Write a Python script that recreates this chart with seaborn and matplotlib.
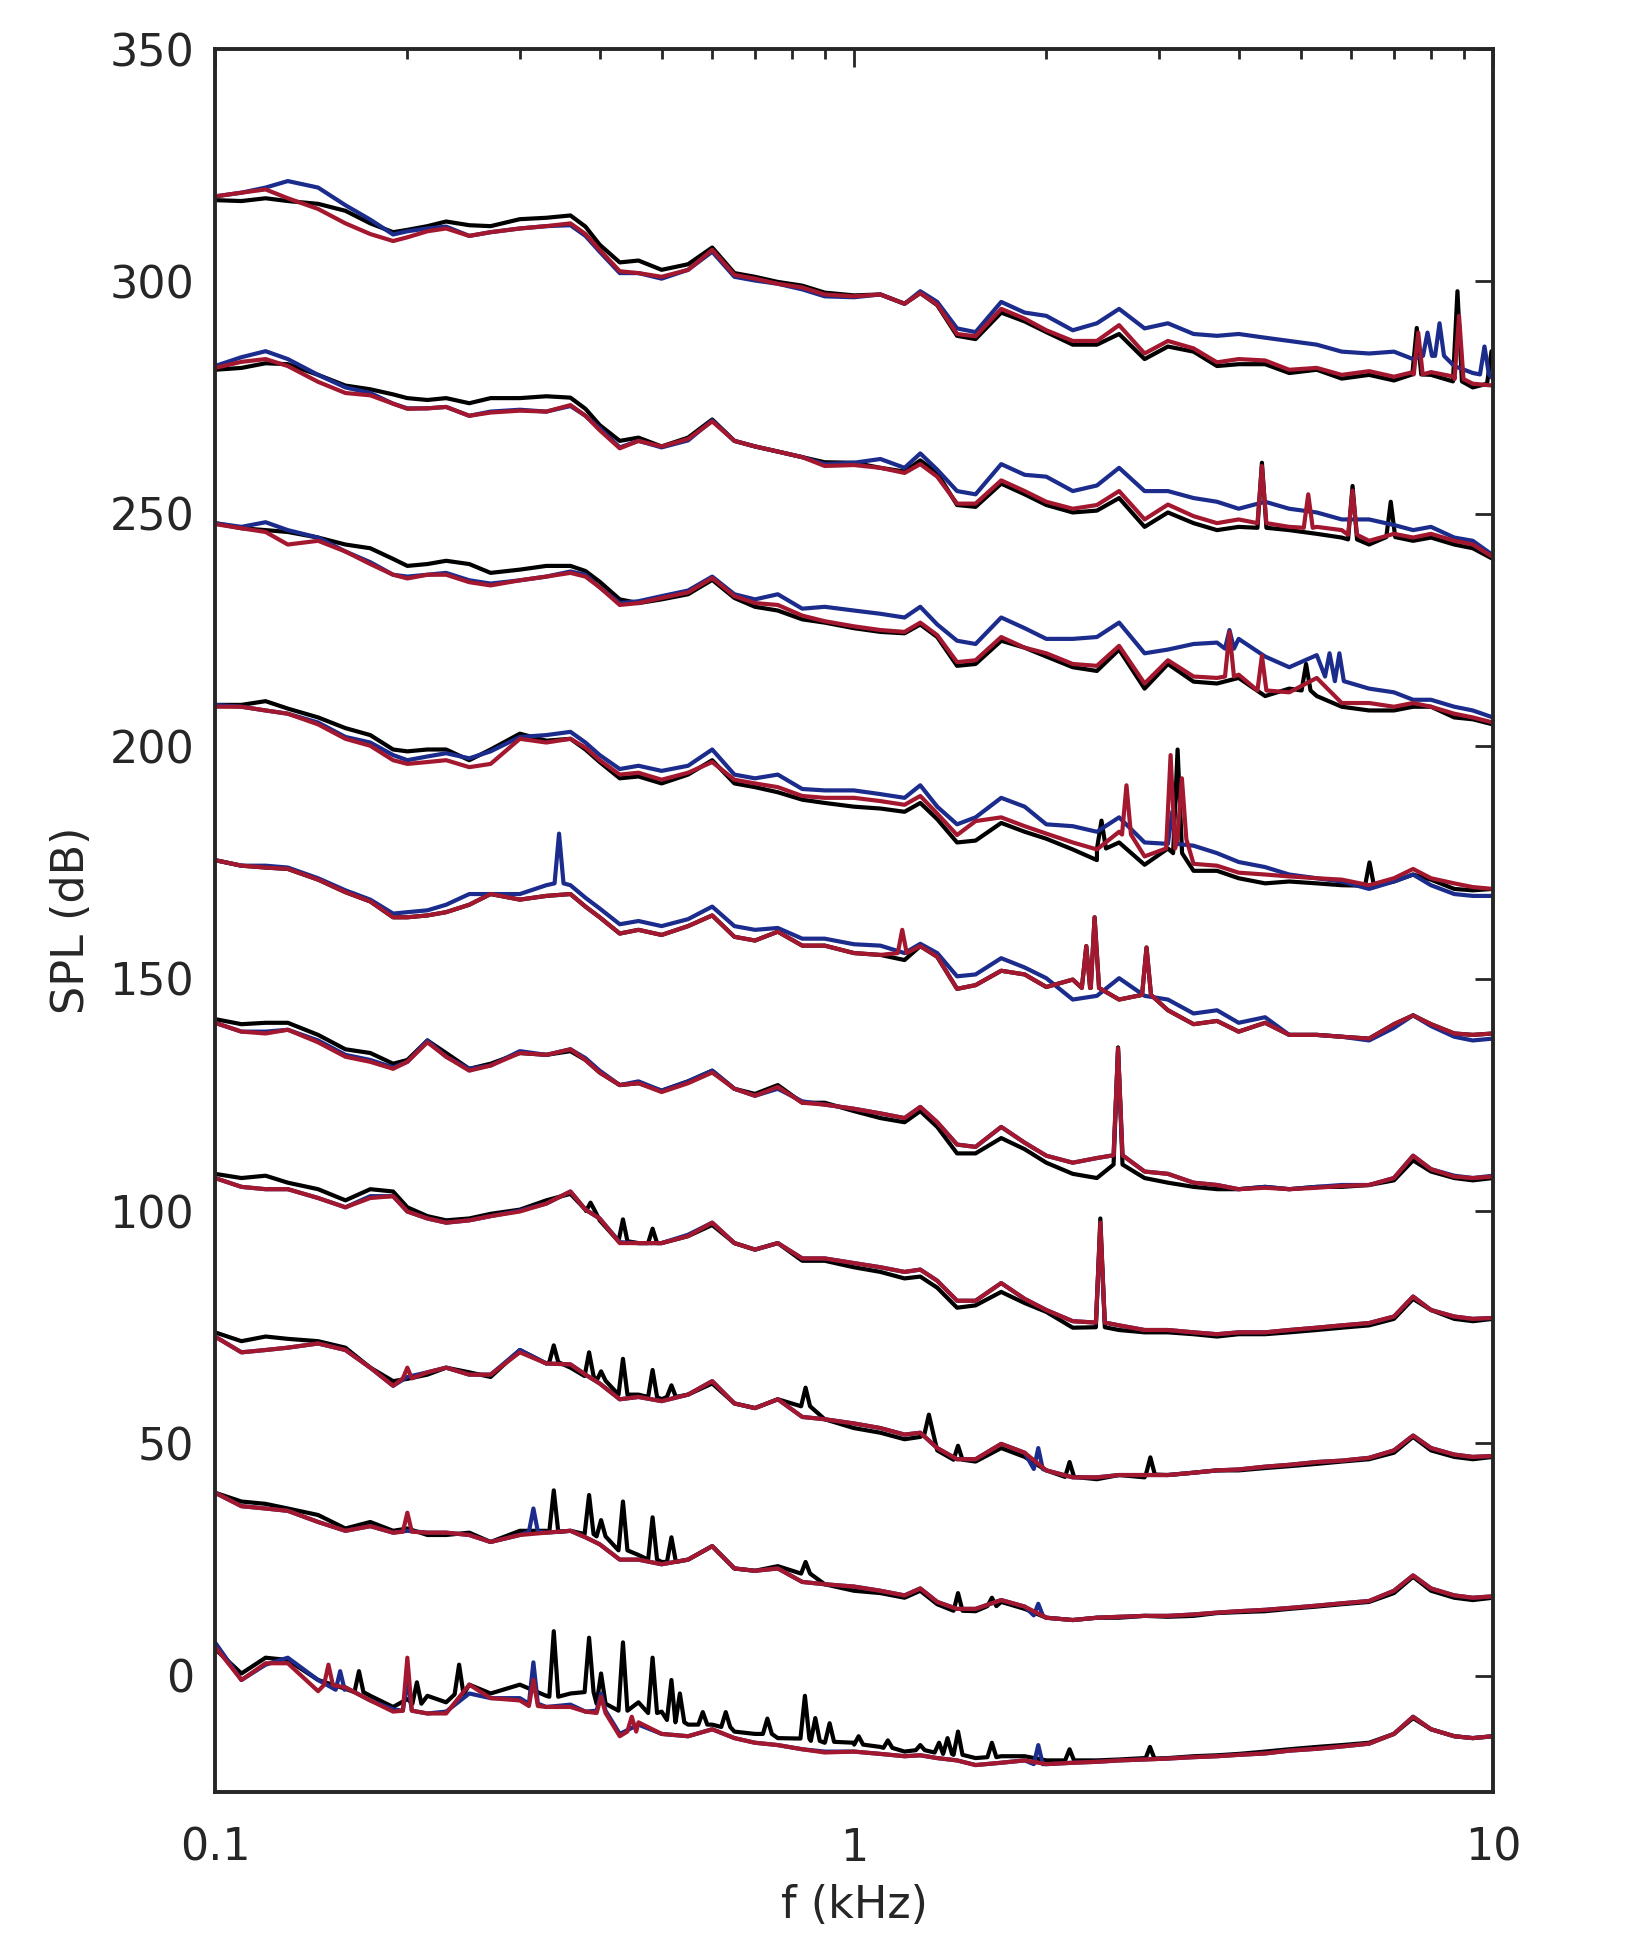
import numpy as np
import pandas as pd
import seaborn as sns
import matplotlib.pyplot as plt
from matplotlib.ticker import FixedLocator, NullFormatter

sns.set_theme(style="white")
plt.rcParams['font.family'] = ['DejaVu Sans']

# frekans ızgarası (kHz), tüm eğriler için ortak
freq_khz = [0.1, 0.11, 0.12, 0.13, 0.145, 0.16, 0.175, 0.19, 0.2, 0.215, 0.23, 0.25, 0.27, 0.3,
            0.33, 0.36, 0.38, 0.4, 0.43, 0.46, 0.5, 0.55, 0.6, 0.65, 0.7, 0.76, 0.83, 0.9,
            1.0, 1.1, 1.2, 1.27, 1.35, 1.45, 1.55, 1.7, 1.85, 2.0, 2.2, 2.4, 2.6, 2.85, 3.1,
            3.4, 3.7, 4.0, 4.4, 4.8, 5.3, 5.8, 6.4, 7.0, 7.5, 8.0, 8.7, 9.3, 10.0]

# grup 1 (en üst)
k1 = [317.5, 317.3, 317.9, 317.3, 316.7, 315.2, 312.5, 310.6, 311.1, 311.9, 312.9, 312.1, 311.9, 313.4,
      313.7, 314.2, 311.8, 307.9, 304.1, 304.5, 302.5, 303.7, 307.3, 301.8, 301.0, 299.9, 299.1, 297.6,
      297.0, 297.2, 295.2, 297.5, 294.9, 288.3, 287.6, 293.3, 291.4, 289.1, 286.4, 286.4, 288.7, 283.3, 286.0,
      284.9, 281.8, 282.2, 282.2, 280.3, 281.0, 279.1, 279.9, 278.7, 280.0, 279.9, 278.5, 277.2, 278.0]
b1 = [318.3, 319.1, 320.2, 321.6, 320.2, 316.4, 313.3, 310.1, 310.8, 311.4, 311.8, 309.8, 310.6, 311.4,
      311.9, 312.1, 309.8, 306.4, 301.8, 301.8, 300.6, 302.5, 306.4, 301.0, 300.2, 299.5, 298.3, 296.8,
      296.6, 297.2, 295.2, 297.9, 295.6, 289.9, 289.1, 295.6, 293.3, 292.6, 289.5, 291.0, 294.1, 289.9, 291.0,
      288.7, 288.3, 288.7, 287.9, 287.2, 286.4, 284.9, 284.5, 284.9, 283.3, 286.4, 281.8, 280.3, 279.1]
r1 = [318.3, 319.1, 319.8, 317.9, 315.6, 312.5, 310.2, 308.7, 309.5, 310.8, 311.4, 309.8, 310.6, 311.4,
      311.9, 312.5, 310.2, 306.8, 302.2, 301.8, 301.0, 302.5, 306.8, 301.4, 300.6, 299.5, 298.7, 297.2,
      296.8, 297.2, 295.2, 297.5, 295.0, 288.7, 288.2, 294.1, 292.0, 289.5, 287.2, 287.2, 290.6, 284.5, 287.2,
      285.6, 282.6, 283.3, 283.0, 281.0, 281.4, 279.9, 280.7, 279.5, 280.5, 280.5, 279.5, 278.0, 277.6]
s1 = [("k", 7.6, 280.0, 290.0), ("k", 8.8, 278.5, 297.9), ("k", 9.95, 278.0, 285.0),
      ("b", 7.9, 284.0, 289.0), ("b", 8.25, 284.0, 291.0), ("b", 9.7, 280.0, 286.0),
      ("r", 7.64, 280.0, 289.0), ("r", 8.85, 279.0, 292.6)]

# grup 2
k2 = [281.0, 281.4, 282.4, 282.2, 279.9, 277.6, 276.8, 275.7, 274.9, 274.5, 274.9, 273.8, 274.9, 274.9,
      275.3, 275.0, 272.6, 269.1, 265.7, 266.4, 264.5, 266.4, 270.3, 265.7, 264.5, 263.4, 262.2, 261.1,
      261.0, 259.9, 259.1, 261.5, 258.8, 251.9, 251.5, 256.5, 254.2, 251.9, 250.3, 250.7, 253.4, 247.2, 250.3,
      248.0, 246.5, 247.2, 246.9, 246.5, 245.7, 244.9, 243.4, 244.9, 244.2, 244.9, 243.4, 242.6, 240.3]
b2 = [281.8, 283.7, 285.0, 283.3, 279.9, 277.2, 276.0, 273.7, 272.7, 272.7, 273.0, 271.1, 272.0, 272.4,
      272.0, 273.2, 271.1, 268.4, 264.3, 265.7, 264.3, 265.8, 270.1, 265.7, 264.5, 263.4, 262.2, 260.7,
      261.0, 261.8, 259.9, 263.0, 259.5, 254.9, 254.2, 260.7, 258.4, 258.0, 254.9, 256.1, 259.9, 254.9, 254.9,
      253.4, 252.6, 251.1, 252.6, 251.1, 250.3, 248.8, 248.8, 247.6, 246.5, 247.2, 244.9, 244.2, 241.1]
r2 = [281.4, 282.7, 283.3, 281.8, 278.4, 276.0, 275.5, 273.7, 272.6, 272.7, 273.0, 271.1, 271.8, 272.2,
      272.0, 273.4, 271.1, 268.0, 264.1, 265.7, 264.5, 266.1, 269.9, 265.7, 264.5, 263.4, 262.2, 260.3,
      260.5, 259.9, 258.8, 260.7, 258.0, 252.2, 252.2, 257.2, 254.9, 252.6, 251.1, 251.9, 254.9, 248.8, 252.0,
      249.5, 248.0, 248.8, 248.8, 247.2, 247.2, 246.5, 244.2, 245.7, 244.9, 245.7, 244.2, 243.4, 240.7]
s2 = [("k", 4.35, 247.0, 261.0), ("k", 6.03, 244.5, 256.0), ("k", 6.92, 245.0, 252.6),
      ("r", 4.35, 248.0, 260.3), ("r", 5.14, 247.0, 254.2), ("r", 6.03, 245.5, 255.0)]

# grup 3
k3 = [248.0, 246.9, 246.5, 246.1, 244.9, 243.4, 242.6, 240.3, 238.8, 239.2, 239.9, 239.2, 237.3, 238.0,
      238.8, 238.8, 237.7, 235.4, 231.6, 230.8, 231.6, 232.7, 235.8, 231.9, 230.0, 229.2, 227.3, 226.6,
      225.4, 224.6, 224.3, 226.2, 223.5, 217.3, 217.7, 222.7, 221.2, 219.3, 217.0, 216.2, 220.8, 212.4, 217.7,
      213.9, 213.5, 214.7, 210.8, 212.4, 210.8, 208.5, 207.7, 207.7, 208.5, 208.5, 206.2, 205.8, 204.7]
b3 = [248.0, 247.2, 248.2, 246.5, 244.9, 241.9, 239.6, 236.9, 236.5, 236.9, 237.3, 235.7, 235.0, 235.7,
      236.5, 237.6, 236.9, 234.2, 230.8, 231.2, 232.3, 233.5, 236.5, 232.7, 231.6, 232.7, 229.6, 230.0,
      229.2, 228.5, 227.7, 230.0, 226.2, 222.7, 222.0, 227.7, 225.4, 223.1, 223.1, 223.5, 226.6, 220.0, 220.8,
      222.0, 222.3, 223.1, 219.3, 217.0, 219.6, 214.7, 212.4, 211.6, 210.0, 210.0, 208.5, 207.7, 206.2]
r3 = [247.8, 246.9, 246.1, 243.4, 244.2, 241.9, 239.2, 236.9, 236.1, 236.9, 236.9, 235.3, 234.6, 235.7,
      236.5, 237.3, 236.5, 234.2, 230.4, 230.8, 231.9, 233.1, 236.2, 232.3, 230.8, 230.4, 228.1, 226.9,
      225.8, 225.0, 224.6, 226.6, 223.9, 218.1, 218.5, 223.5, 221.2, 220.0, 217.7, 217.3, 221.6, 213.5, 218.5,
      215.0, 214.7, 215.4, 216.0, 211.6, 214.7, 209.3, 209.3, 208.5, 209.3, 208.5, 207.0, 206.2, 205.1]
s3 = [("k", 5.1, 212.0, 217.7), ("b", 3.87, 221.0, 225.0), ("b", 5.55, 215.0, 220.0),
      ("b", 5.75, 214.0, 220.0), ("r", 3.87, 215.0, 224.6), ("r", 4.35, 212.0, 219.5)]

# grup 4
k4 = [208.9, 208.9, 209.7, 208.1, 206.2, 203.9, 202.4, 199.3, 198.9, 199.3, 199.3, 197.0, 199.3, 202.7,
      201.2, 201.6, 199.3, 196.6, 193.1, 193.5, 192.0, 193.9, 197.0, 192.0, 191.2, 190.1, 188.5, 187.8,
      187.0, 186.6, 185.9, 187.8, 184.3, 179.3, 179.7, 183.5, 181.6, 180.1, 177.8, 175.5, 179.3, 174.5, 178.0,
      173.2, 173.2, 171.6, 170.5, 170.9, 170.5, 170.1, 170.1, 170.9, 172.4, 171.3, 169.3, 169.0, 169.3]
b4 = [208.9, 208.5, 207.7, 207.0, 205.1, 202.0, 200.8, 198.1, 197.0, 197.8, 198.5, 197.4, 198.9, 202.0,
      202.4, 203.1, 200.8, 198.1, 195.1, 195.8, 194.7, 195.8, 199.3, 193.9, 193.1, 193.9, 190.8, 190.5,
      190.5, 189.7, 188.9, 191.6, 187.0, 183.2, 184.7, 188.9, 187.0, 183.2, 182.8, 181.6, 184.7, 179.3, 180.5,
      178.6, 177.0, 175.1, 174.0, 172.4, 171.6, 170.9, 169.3, 170.9, 172.4, 170.1, 168.2, 167.8, 167.8]
r4 = [208.5, 208.5, 207.7, 207.0, 204.7, 201.6, 200.1, 197.0, 196.2, 196.6, 197.0, 195.5, 196.2, 201.6,
      200.8, 201.6, 199.7, 197.0, 193.9, 194.3, 192.8, 194.3, 196.6, 192.8, 192.0, 191.2, 189.3, 188.9,
      188.9, 188.2, 187.4, 189.3, 185.5, 180.9, 183.9, 184.7, 182.8, 181.2, 179.3, 177.8, 181.6, 176.3, 180.9,
      174.7, 174.3, 172.8, 172.4, 172.0, 171.6, 171.3, 170.1, 171.6, 173.6, 171.6, 170.5, 169.7, 169.3]
s4 = [("k", 2.44, 178.0, 184.0), ("k", 3.21, 177.0, 199.3), ("k", 6.41, 170.0, 175.0),
      ("b", 3.15, 179.0, 186.0), ("r", 2.67, 181.0, 191.6), ("r", 3.13, 178.0, 198.1),
      ("r", 3.26, 180.0, 193.1)]

# grup 5 (siyah eğri kırmızının altında kalıyor)
r5 = [175.5, 174.3, 173.9, 173.6, 171.3, 168.6, 166.6, 163.2, 163.2, 163.6, 164.3, 165.9, 168.2, 167.0,
      167.8, 168.2, 165.5, 163.2, 159.7, 160.5, 159.4, 161.3, 163.6, 159.0, 158.2, 160.1, 157.1, 157.1,
      155.5, 155.1, 154.0, 157.0, 154.7, 147.8, 148.6, 151.7, 150.9, 148.2, 149.8, 147.0, 145.5, 148.0, 143.2,
      140.2, 140.9, 138.6, 140.5, 137.9, 137.9, 137.5, 137.1, 140.2, 142.1, 140.2, 138.2, 137.9, 138.2]
k5 = r5
b5 = [175.5, 174.3, 174.3, 173.9, 171.6, 169.0, 167.0, 164.0, 164.3, 164.7, 165.9, 168.2, 168.2, 168.2,
      170.1, 170.1, 167.4, 165.1, 161.7, 162.4, 161.3, 162.8, 165.5, 161.3, 160.5, 160.9, 158.6, 158.6,
      157.4, 157.1, 155.5, 157.5, 155.5, 150.5, 150.9, 154.4, 152.4, 150.1, 145.5, 146.3, 150.1, 146.3, 145.5,
      142.5, 143.2, 140.5, 141.7, 137.9, 137.9, 137.5, 136.7, 139.4, 142.1, 139.8, 137.5, 136.7, 137.1]
s5 = [("b", 0.3455, 170.5, 181.2), ("r", 1.19, 155.5, 160.5), ("r", 2.31, 148.0, 157.0),
      ("r", 2.38, 148.0, 163.2), ("r", 2.87, 146.5, 156.7), ("k", 2.31, 148.0, 157.0),
      ("k", 2.38, 148.0, 163.2), ("k", 2.87, 146.5, 156.7)]

# grup 6
k6 = [141.3, 140.2, 140.5, 140.5, 137.9, 134.8, 134.0, 131.7, 132.5, 136.7, 134.0, 130.6, 131.7, 134.0,
      133.6, 134.4, 132.5, 129.8, 127.1, 127.5, 125.9, 127.9, 130.2, 126.3, 125.2, 127.1, 123.3, 123.3,
      121.5, 120.0, 119.1, 121.5, 118.1, 112.4, 112.4, 115.7, 113.3, 110.4, 108.0, 107.1, 109.0, 107.1, 106.1,
      105.2, 104.7, 104.7, 105.2, 104.7, 105.2, 105.2, 105.6, 106.6, 110.9, 108.5, 107.1, 106.6, 107.1]
b6 = [140.5, 138.6, 138.6, 139.0, 136.7, 133.6, 132.5, 130.9, 132.1, 136.7, 133.2, 130.6, 131.3, 134.4,
      133.6, 134.8, 132.9, 130.2, 127.1, 127.9, 125.9, 127.9, 130.2, 126.3, 124.8, 126.3, 123.6, 122.9,
      122.0, 121.0, 120.0, 122.4, 119.1, 114.3, 113.8, 118.1, 114.7, 111.9, 110.4, 111.4, 113.8, 108.5, 108.0,
      106.1, 105.6, 104.7, 105.2, 104.7, 105.2, 105.6, 105.6, 107.1, 111.9, 109.0, 107.6, 107.1, 107.6]
r6 = [140.5, 138.6, 138.2, 139.0, 136.3, 133.2, 132.1, 130.6, 132.1, 136.3, 133.2, 130.2, 131.3, 134.0,
      133.6, 134.8, 132.5, 129.8, 127.1, 127.5, 125.6, 127.5, 129.8, 126.3, 124.8, 126.7, 123.3, 122.9,
      122.0, 121.0, 120.0, 122.4, 119.1, 114.3, 113.8, 118.1, 114.7, 111.9, 110.4, 111.4, 113.8, 108.5, 108.0,
      106.1, 105.6, 104.7, 105.0, 104.7, 105.0, 105.4, 105.6, 107.1, 111.9, 109.0, 107.4, 107.1, 107.4]
s6 = [("k", 2.59, 110.0, 135.2), ("b", 2.59, 112.0, 134.5), ("r", 2.59, 112.0, 135.0)]

# grup 7
k7 = [108.0, 107.1, 107.6, 106.1, 104.7, 102.3, 104.7, 104.2, 100.8, 98.9, 98.0, 98.4, 99.4, 100.3,
      102.3, 103.7, 100.3, 98.0, 93.6, 93.1, 93.1, 94.6, 97.0, 93.1, 91.7, 93.1, 89.3, 89.3,
      87.9, 86.9, 85.5, 85.9, 83.5, 79.2, 79.7, 82.6, 80.2, 78.3, 74.9, 75.4, 74.4, 73.9, 73.9,
      73.5, 73.0, 73.5, 73.5, 73.9, 74.4, 74.9, 75.4, 76.8, 81.1, 78.7, 76.8, 76.3, 76.8]
b7 = [107.1, 105.2, 104.7, 104.7, 102.8, 100.8, 103.2, 103.2, 99.9, 98.4, 97.5, 98.0, 98.9, 100.1,
      101.6, 104.2, 100.3, 98.4, 93.3, 93.1, 93.1, 94.9, 97.5, 93.1, 91.7, 93.1, 89.8, 89.8,
      88.8, 87.9, 86.9, 87.4, 85.0, 80.7, 80.7, 84.5, 81.1, 78.7, 76.3, 76.8, 75.4, 74.4, 74.4,
      73.9, 73.5, 73.9, 73.9, 74.4, 74.9, 75.4, 75.9, 77.3, 81.6, 78.7, 77.3, 76.8, 77.0]
r7 = [107.1, 105.2, 104.7, 104.7, 102.8, 100.8, 102.8, 103.2, 99.9, 98.4, 97.5, 98.0, 98.9, 99.9,
      101.6, 104.2, 100.3, 98.4, 93.1, 93.1, 93.1, 94.6, 97.5, 93.1, 91.7, 93.1, 89.8, 89.8,
      88.8, 87.9, 86.9, 87.4, 85.0, 80.7, 80.7, 84.5, 81.1, 78.7, 76.3, 76.8, 75.4, 74.4, 74.4,
      73.9, 73.5, 73.9, 73.9, 74.4, 74.9, 75.4, 75.9, 77.3, 81.6, 78.7, 77.3, 76.8, 77.0]
s7 = [("k", 0.387, 100.0, 101.8), ("k", 0.435, 93.5, 98.2), ("k", 0.484, 93.1, 96.2),
      ("k", 2.43, 75.0, 98.4), ("b", 2.43, 76.0, 96.0), ("r", 2.43, 76.0, 97.5)]

# grup 8
k8 = [73.9, 72.0, 73.0, 72.5, 72.0, 70.6, 66.3, 63.4, 63.9, 64.8, 66.3, 65.3, 64.3, 70.1,
      67.2, 66.3, 64.3, 63.9, 60.0, 60.5, 59.5, 60.5, 62.9, 58.6, 57.6, 59.5, 55.2, 55.2,
      53.3, 52.3, 50.9, 51.4, 48.5, 46.1, 46.1, 49.0, 47.1, 44.2, 42.7, 42.3, 43.2, 42.7, 43.2,
      43.7, 44.2, 44.2, 44.7, 45.1, 45.6, 46.1, 46.6, 48.0, 51.4, 48.5, 47.1, 46.6, 47.1]
b8 = [73.0, 69.6, 70.1, 70.6, 71.5, 70.1, 66.3, 62.4, 64.3, 65.3, 66.3, 64.8, 64.8, 70.1,
      67.2, 67.0, 64.8, 62.9, 59.5, 60.0, 59.1, 60.5, 63.4, 58.6, 57.6, 59.5, 55.7, 55.2,
      54.3, 53.3, 51.9, 52.3, 49.0, 46.6, 46.6, 49.9, 48.0, 44.2, 42.7, 42.7, 43.2, 43.2, 43.2,
      43.7, 44.2, 44.4, 45.0, 45.4, 46.0, 46.3, 46.9, 48.5, 51.7, 49.0, 47.6, 47.1, 47.3]
r8 = [73.0, 69.6, 70.1, 70.6, 71.5, 70.1, 66.3, 62.4, 64.3, 65.3, 66.3, 64.8, 64.8, 69.6,
      67.2, 67.0, 64.8, 62.9, 59.5, 60.0, 59.1, 60.5, 63.4, 58.6, 57.6, 59.5, 55.7, 55.2,
      54.3, 53.3, 51.9, 52.3, 49.0, 46.6, 46.6, 49.9, 48.0, 44.2, 42.7, 42.7, 43.2, 43.2, 43.2,
      43.7, 44.2, 44.4, 45.0, 45.4, 46.0, 46.3, 46.9, 48.5, 51.7, 49.0, 47.6, 47.1, 47.3]
s8 = [("k", 0.339, 67.5, 71.1), ("k", 0.385, 64.5, 69.6), ("k", 0.402, 63.5, 65.5),
      ("k", 0.435, 60.5, 68.2), ("k", 0.484, 60.0, 65.8), ("k", 0.518, 60.0, 62.5),
      ("k", 0.84, 58.0, 62.0), ("k", 1.31, 52.0, 56.2), ("k", 1.455, 46.5, 49.5),
      ("k", 2.175, 42.8, 46.0), ("k", 2.91, 43.3, 47.0), ("b", 1.943, 44.5, 49.0),
      ("r", 0.2, 64.0, 66.3)]

# grup 9
k9 = [39.4, 37.5, 37.0, 36.0, 34.6, 31.7, 33.1, 31.2, 31.7, 30.3, 30.3, 30.8, 28.8, 31.2,
      31.2, 31.2, 30.3, 29.3, 26.0, 26.0, 24.5, 25.0, 27.9, 23.1, 22.6, 23.6, 20.2, 19.7,
      18.3, 17.8, 16.8, 18.3, 15.4, 13.9, 13.9, 15.9, 14.4, 12.5, 12.0, 12.5, 12.5, 12.9, 12.7,
      12.9, 13.5, 13.7, 13.9, 14.4, 14.9, 15.4, 15.9, 17.8, 21.3, 18.3, 16.8, 16.3, 16.8]
b9 = [39.4, 36.5, 36.0, 35.5, 33.1, 31.2, 32.2, 30.8, 31.2, 30.8, 30.8, 30.3, 28.8, 30.3,
      30.8, 31.2, 29.8, 28.3, 25.0, 25.0, 24.0, 25.0, 27.9, 23.1, 22.6, 23.1, 20.2, 19.7,
      19.2, 18.3, 17.3, 18.8, 15.9, 14.4, 14.4, 16.3, 14.9, 12.5, 12.0, 12.5, 12.7, 12.9, 12.9,
      13.2, 13.6, 13.9, 14.2, 14.6, 15.1, 15.6, 16.1, 18.3, 21.6, 18.8, 17.3, 16.8, 17.1]
r9 = [39.4, 36.5, 36.0, 35.5, 33.1, 31.2, 32.2, 30.8, 31.2, 30.8, 30.8, 30.3, 28.8, 30.3,
      30.8, 31.2, 29.8, 28.3, 25.0, 25.0, 24.0, 25.0, 27.9, 23.1, 22.6, 23.1, 20.2, 19.7,
      19.2, 18.3, 17.3, 18.8, 15.9, 14.4, 14.4, 16.3, 14.9, 12.5, 12.0, 12.5, 12.7, 12.9, 12.9,
      13.2, 13.6, 13.9, 14.2, 14.6, 15.1, 15.6, 16.1, 18.3, 21.6, 18.8, 17.3, 16.8, 17.1]
s9 = [("k", 0.339, 31.0, 39.9), ("k", 0.385, 30.5, 38.9), ("k", 0.402, 30.0, 33.5),
      ("k", 0.435, 27.0, 37.5), ("k", 0.484, 25.0, 34.1), ("k", 0.518, 24.5, 29.8),
      ("k", 0.84, 22.0, 24.5), ("k", 1.455, 14.0, 17.8), ("k", 1.644, 15.0, 16.8),
      ("b", 0.315, 31.0, 36.0), ("b", 1.943, 13.0, 15.5), ("r", 0.2, 31.0, 35.1)]

# grup 10 (en alt)
k10 = [5.8, 0.5, 3.9, 3.4, -0.9, -2.8, -4.3, -6.7, -5.0, -4.3, -5.7, -1.9, -3.8, -1.9,
       -4.3, -3.8, -2.8, -4.0, -7.7, -5.7, -7.7, -10.5, -10.5, -12.0, -12.5, -13.4, -13.9, -14.4,
       -14.4, -15.3, -16.3, -15.8, -16.8, -17.3, -17.7, -17.3, -17.3, -18.2, -18.2, -18.2, -18.0, -17.7, -17.7,
       -17.3, -17.1, -16.8, -16.3, -15.8, -15.3, -14.9, -14.4, -12.5, -9.1, -11.5, -13.0, -13.4, -13.0]
b10 = [7.2, -0.9, 2.4, 3.9, -0.9, -2.5, -5.3, -7.2, -7.5, -8.1, -7.7, -3.8, -4.8, -4.8,
       -6.7, -6.2, -7.7, -7.0, -12.5, -10.5, -12.5, -13.0, -11.5, -13.4, -14.4, -14.9, -15.8, -16.3,
       -16.3, -16.8, -17.3, -17.1, -17.7, -18.2, -19.2, -18.7, -18.2, -19.0, -18.7, -18.5, -18.2, -18.0, -17.8,
       -17.5, -17.3, -17.0, -16.7, -16.1, -15.7, -15.2, -14.6, -12.5, -8.8, -11.5, -13.0, -13.4, -13.0]
r10 = [6.3, -0.9, 2.7, 2.7, -3.3, -2.5, -5.3, -7.7, -7.5, -8.1, -8.1, -1.9, -4.8, -5.3,
       -6.7, -6.7, -7.7, -6.0, -13.0, -10.0, -12.5, -13.0, -11.5, -13.4, -14.4, -14.9, -15.8, -16.5,
       -16.3, -16.8, -17.3, -17.1, -17.7, -18.2, -19.2, -18.7, -18.2, -19.0, -18.7, -18.5, -18.2, -18.0, -17.8,
       -17.5, -17.3, -17.0, -16.7, -16.1, -15.7, -15.2, -14.6, -12.5, -8.8, -11.5, -13.0, -13.4, -13.0]
s10 = [("k", 0.168, -3.5, 1.0), ("k", 0.207, -6.0, -1.4), ("k", 0.241, -4.0, 2.4),
       ("k", 0.339, -4.5, 9.6), ("k", 0.385, -3.5, 8.2), ("k", 0.402, -6.0, 0.5),
       ("k", 0.435, -7.5, 7.2), ("k", 0.484, -8.0, 3.9), ("k", 0.518, -9.5, -0.9),
       ("k", 0.534, -10.0, -3.8), ("k", 0.58, -10.5, -7.8), ("k", 0.63, -11.0, -7.8),
       ("k", 0.732, -12.5, -9.2), ("k", 0.838, -13.5, -4.3), ("k", 0.87, -14.0, -9.1),
       ("k", 0.916, -14.2, -10.2), ("k", 1.017, -14.8, -13.0), ("k", 1.13, -15.5, -13.9),
       ("k", 1.27, -16.0, -14.9), ("k", 1.359, -16.5, -14.4), ("k", 1.401, -16.8, -13.4),
       ("k", 1.455, -17.0, -12.0), ("k", 1.644, -17.5, -14.4), ("k", 2.175, -18.2, -15.8),
       ("k", 2.906, -17.8, -15.3),
       ("b", 0.157, -3.0, 1.0), ("b", 0.2, -7.5, -0.9), ("b", 0.315, -6.0, 2.9),
       ("b", 0.402, -7.5, -3.8), ("b", 1.943, -19.0, -14.9),
       ("r", 0.1505, -2.0, 2.4), ("r", 0.2, -7.5, 3.9), ("r", 0.315, -6.5, -0.9),
       ("r", 0.402, -8.0, -4.5), ("r", 0.449, -12.0, -8.8)]

groups = [(k1, b1, r1, s1), (k2, b2, r2, s2), (k3, b3, r3, s3), (k4, b4, r4, s4),
          (k5, b5, r5, s5), (k6, b6, r6, s6), (k7, b7, r7, s7), (k8, b8, r8, s8),
          (k9, b9, r9, s9), (k10, b10, r10, s10)]

line_colors = {"k": "#000000", "b": "#1b2c8c", "r": "#a3172f"}
spike_hw = 10 ** 0.007  # dar tepelerin yarı genişliği (log)


def trace(base, spikes, tag):
    f = np.asarray(freq_khz, float)
    v = np.asarray(base, float)
    assert len(f) == len(v)
    keep = np.ones(len(f), bool)
    ef, ev = [], []
    for c, fp, lo, hi in spikes:
        if c != tag:
            continue
        keep &= ~((f > fp / spike_hw) & (f < fp * spike_hw))
        ef += [fp / spike_hw, fp, fp * spike_hw]
        ev += [lo, hi, lo]
    ff = np.concatenate([f[keep], ef])
    vv = np.concatenate([v[keep], ev])
    order = np.argsort(ff, kind="stable")
    return pd.DataFrame({"f": ff[order], "spl": vv[order]})


fig = plt.figure(figsize=(16.5, 19.47), dpi=100)
ax = fig.add_axes([0.1303, 0.0796, 0.7745, 0.8952])
ax.set_xscale('log')

for k, b, r, s in groups:
    for tag, vals in (("k", k), ("b", b), ("r", r)):
        df = trace(vals, s, tag)
        sns.lineplot(data=df, x="f", y="spl", color=line_colors[tag], linewidth=3.0,
                     sort=False, estimator=None, ax=ax, solid_joinstyle='round')

dark = '#262626'
ax.set_xlim(0.1, 10)
ax.set_ylim(-25, 350)
ax.set_xticks([0.1, 1, 10])
ax.set_xticklabels(['0.1', '1', '10'])
ax.xaxis.set_minor_locator(FixedLocator([m * 10.0 ** e for e in (-1, 0) for m in range(2, 10)]))
ax.xaxis.set_minor_formatter(NullFormatter())
ax.set_yticks(range(0, 351, 50))
ax.tick_params(which='both', direction='in', top=True, right=True, color=dark, width=2.0,
               labelcolor=dark)
ax.tick_params(which='major', length=13, labelsize=32)
ax.tick_params(axis='y', which='major', pad=15)
ax.tick_params(axis='x', which='major', pad=25)
ax.tick_params(which='minor', length=7)
for sp in ax.spines.values():
    sp.set_linewidth(2.8)
    sp.set_color(dark)
ax.grid(False)
ax.set_xlabel('f (kHz)', fontsize=32, color=dark, labelpad=10)
ax.set_ylabel('SPL (dB)', fontsize=32, color=dark, labelpad=12)

fig.savefig('out.png', dpi=100)
